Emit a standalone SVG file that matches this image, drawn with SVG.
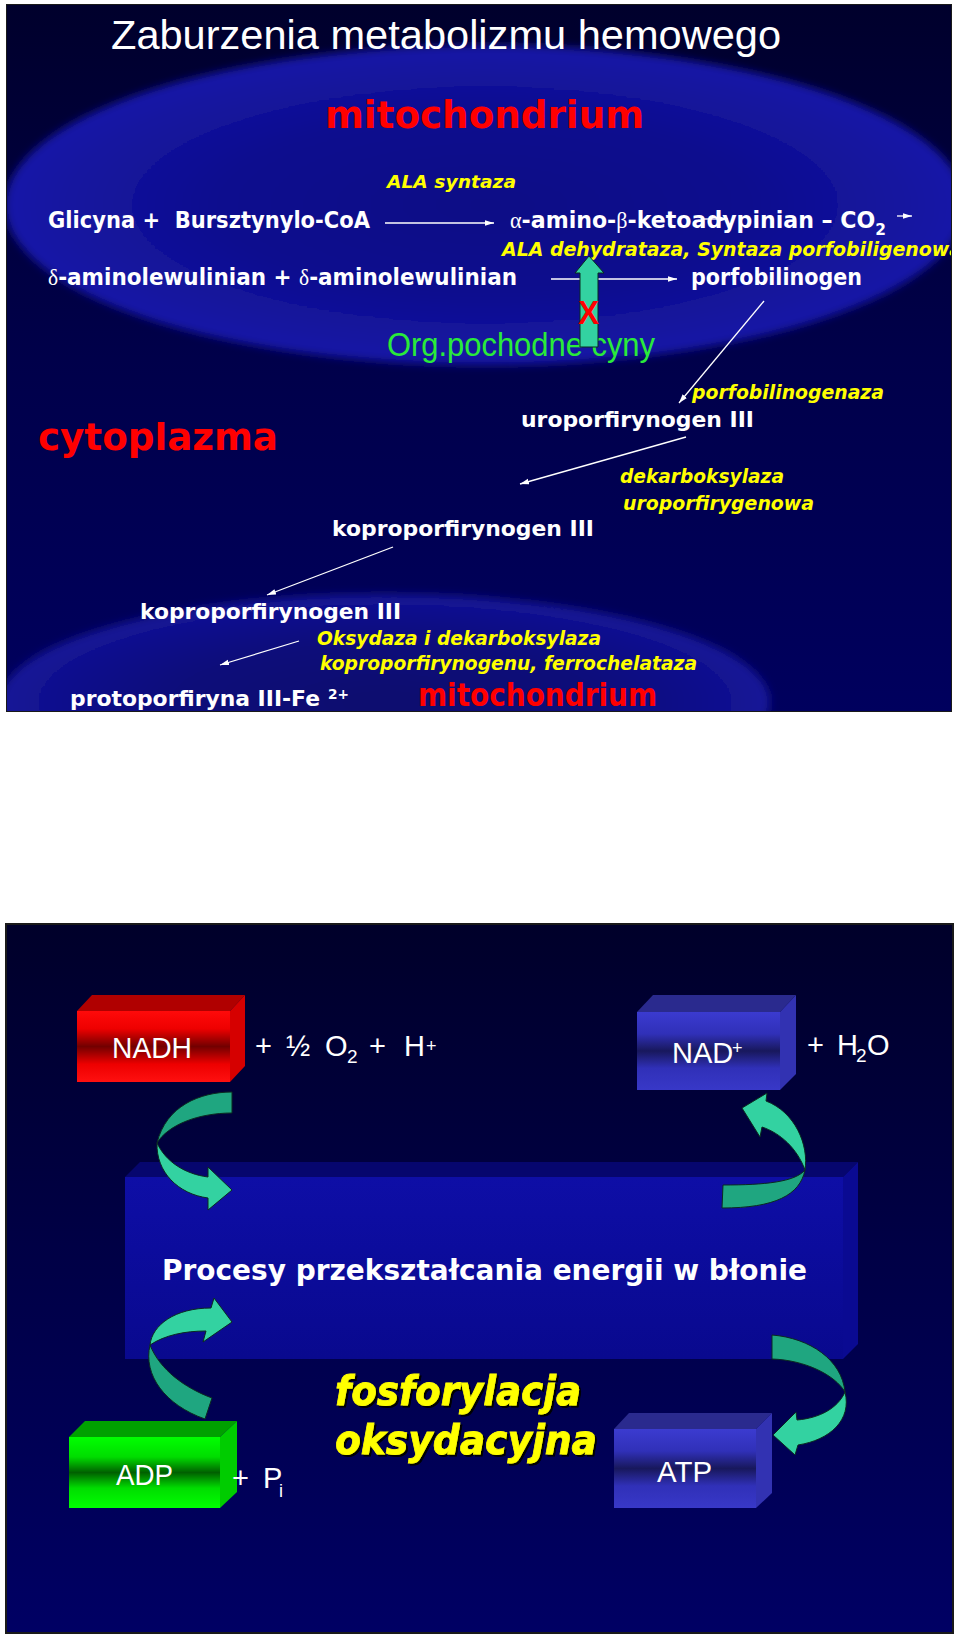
<svg xmlns="http://www.w3.org/2000/svg" width="960" height="1641" viewBox="0 0 960 1641">
<style>
text{font-family:"DejaVu Sans","Liberation Sans",Arial,sans-serif}
.ls{font-family:"Liberation Sans",Arial,sans-serif}
.wb{fill:#fff;font-weight:bold}
.wr{fill:#fff;font-family:"Liberation Sans",Arial,sans-serif}
.yi{fill:#ff0;font-weight:bold;font-style:italic}
.rb{fill:#f00;font-weight:bold}
.gk{font-family:"Liberation Serif","Times New Roman",serif;font-weight:normal}
.conn{stroke:#fff;stroke-width:1.3;fill:none;marker-end:url(#ah)}
.ga{stroke:#0b2a20;stroke-width:1;stroke-linejoin:round}
.dk{fill:#1fa680}
.lt{fill:#33d2a1}
</style>
<defs>
<linearGradient id="bgTop" x1="0" y1="0" x2="0" y2="1"><stop offset="0" stop-color="#00002c"/><stop offset="0.5" stop-color="#00004a"/><stop offset="1" stop-color="#00005e"/></linearGradient>
<linearGradient id="bgBot" x1="0" y1="0" x2="0" y2="1"><stop offset="0" stop-color="#00002a"/><stop offset="0.4" stop-color="#000042"/><stop offset="1" stop-color="#000064"/></linearGradient>
<radialGradient id="ell" cx="0.5" cy="0.5" r="0.5"><stop offset="0" stop-color="#0a0a86"/><stop offset="0.55" stop-color="#0d0d8e"/><stop offset="0.88" stop-color="#1515a0"/><stop offset="1" stop-color="#1818a8"/></radialGradient>
<radialGradient id="ell2" cx="0.5" cy="0.5" r="0.5"><stop offset="0" stop-color="#07076e"/><stop offset="0.55" stop-color="#09097a"/><stop offset="0.88" stop-color="#11118f"/><stop offset="1" stop-color="#141498"/></radialGradient>
<linearGradient id="redF" x1="0" y1="0" x2="0" y2="1"><stop offset="0" stop-color="#ff0a0a"/><stop offset="0.25" stop-color="#ee0000"/><stop offset="0.5" stop-color="#720000"/><stop offset="0.75" stop-color="#ee0000"/><stop offset="1" stop-color="#ff1010"/></linearGradient>
<linearGradient id="bluF" x1="0" y1="0" x2="0" y2="1"><stop offset="0" stop-color="#3b3bd0"/><stop offset="0.28" stop-color="#3030b8"/><stop offset="0.5" stop-color="#18185c"/><stop offset="0.72" stop-color="#3030b8"/><stop offset="1" stop-color="#3838c8"/></linearGradient>
<linearGradient id="grnF" x1="0" y1="0" x2="0" y2="1"><stop offset="0" stop-color="#00ff00"/><stop offset="0.28" stop-color="#00dd00"/><stop offset="0.5" stop-color="#006000"/><stop offset="0.72" stop-color="#00dd00"/><stop offset="1" stop-color="#00ff00"/></linearGradient>
<linearGradient id="bigF" x1="0" y1="0" x2="0" y2="1"><stop offset="0" stop-color="#0e0ea6"/><stop offset="1" stop-color="#09098e"/></linearGradient>
<marker id="ah" markerUnits="userSpaceOnUse" markerWidth="9" markerHeight="7" refX="9" refY="3.5" orient="auto"><path d="M0,0.7 L9,3.5 L0,6.3 Z" fill="#fff"/></marker>
<clipPath id="clipTop"><rect x="6" y="4" width="946" height="708"/></clipPath>
<filter id="soft" x="-5%" y="-10%" width="110%" height="120%"><feGaussianBlur stdDeviation="4"/></filter>
<filter id="sh" x="-5%" y="-20%" width="115%" height="150%"><feDropShadow dx="2" dy="2" stdDeviation="0.6" flood-color="#000"/></filter>
</defs>
<rect x="0" y="0" width="960" height="1641" fill="#fff"/>

<g id="slide1" clip-path="url(#clipTop)">
<rect x="6" y="4" width="946" height="708" fill="url(#bgTop)"/>
<ellipse cx="485" cy="205" rx="480" ry="160" fill="url(#ell)" filter="url(#soft)"/>
<ellipse cx="385" cy="702" rx="385" ry="108" fill="url(#ell2)" filter="url(#soft)"/>

<g id="title"><text class="wr" x="111" y="49" font-size="41" textLength="670" lengthAdjust="spacingAndGlyphs">Zaburzenia metabolizmu hemowego</text></g>
<g id="mitochondrium-top"><text class="rb" x="325" y="128" font-size="37" textLength="319" lengthAdjust="spacingAndGlyphs">mitochondrium</text></g>
<g id="ala-syntaza"><text class="yi" x="387" y="188" font-size="18" textLength="129" lengthAdjust="spacingAndGlyphs">ALA syntaza</text></g>
<g id="glicyna"><text class="wb" x="48" y="228" font-size="23" textLength="322" lengthAdjust="spacingAndGlyphs" xml:space="preserve">Glicyna +  Bursztynylo-CoA</text></g>
<g id="ketoadypinian"><text class="wb" x="510" y="228" font-size="23" textLength="376" lengthAdjust="spacingAndGlyphs"><tspan class="gk">α</tspan>-amino-<tspan class="gk">β</tspan>-ketoadypinian – CO<tspan dy="7" font-size="16">2</tspan></text></g>
<g id="ala-dehydrataza"><text class="yi" x="502" y="256" font-size="20" textLength="460" lengthAdjust="spacingAndGlyphs">ALA dehydrataza, Syntaza porfobiligenowa</text></g>
<g id="aminolewulinian"><text class="wb" x="48" y="285" font-size="23" textLength="469" lengthAdjust="spacingAndGlyphs"><tspan class="gk">δ</tspan>-aminolewulinian + <tspan class="gk">δ</tspan>-aminolewulinian</text></g>
<g id="porfobilinogen"><text class="wb" x="691" y="285" font-size="23" textLength="171" lengthAdjust="spacingAndGlyphs">porfobilinogen</text></g>
<g id="org-pochodne"><text class="ls" x="387" y="356" font-size="34" fill="#2aea3a" textLength="268" lengthAdjust="spacingAndGlyphs">Org.pochodne cyny</text></g>
<g id="porfobilinogenaza"><text class="yi" x="692" y="399" font-size="19" textLength="192" lengthAdjust="spacingAndGlyphs">porfobilinogenaza</text></g>
<g id="uroporfirynogen"><text class="wb" x="521" y="427" font-size="22" textLength="233" lengthAdjust="spacingAndGlyphs">uroporfirynogen III</text></g>
<g id="cytoplazma"><text class="rb" x="38" y="450" font-size="38" textLength="240" lengthAdjust="spacingAndGlyphs">cytoplazma</text></g>
<g id="dekarboksylaza"><text class="yi" x="620" y="483" font-size="19" textLength="164" lengthAdjust="spacingAndGlyphs">dekarboksylaza</text><text class="yi" x="623" y="510" font-size="19" textLength="191" lengthAdjust="spacingAndGlyphs">uroporfirygenowa</text></g>
<g id="koproporfirynogen-1"><text class="wb" x="332" y="536" font-size="22" textLength="262" lengthAdjust="spacingAndGlyphs">koproporfirynogen III</text></g>
<g id="koproporfirynogen-2"><text class="wb" x="140" y="619" font-size="22" textLength="261" lengthAdjust="spacingAndGlyphs">koproporfirynogen III</text></g>
<g id="oksydaza"><text class="yi" x="317" y="645" font-size="19" textLength="284" lengthAdjust="spacingAndGlyphs">Oksydaza i dekarboksylaza</text><text class="yi" x="320" y="670" font-size="19" textLength="377" lengthAdjust="spacingAndGlyphs">koproporfirynogenu, ferrochelataza</text></g>
<g id="protoporfiryna"><text class="wb" x="70" y="706" font-size="22" textLength="250" lengthAdjust="spacingAndGlyphs">protoporfiryna III-Fe</text><text class="wb" x="328" y="699" font-size="14" textLength="21" lengthAdjust="spacingAndGlyphs">2+</text></g>
<g id="mitochondrium-bottom"><text class="rb" x="418" y="706" font-size="32" textLength="239" lengthAdjust="spacingAndGlyphs">mitochondrium</text></g>

<g id="connectors-top">
<line class="conn" x1="385" y1="223" x2="494" y2="223"/>
<line class="conn" x1="701" y1="219" x2="728" y2="219"/>
<line class="conn" x1="897" y1="216" x2="912" y2="216"/>
<line class="conn" x1="551" y1="279" x2="677" y2="279"/>
<line class="conn" x1="764" y1="301" x2="679" y2="403"/>
<line class="conn" x1="686" y1="437" x2="520" y2="484"/>
<line class="conn" x1="393" y1="547" x2="267" y2="595"/>
<line class="conn" x1="299" y1="641" x2="220" y2="665"/>
<path class="ga lt" d="M589,256 L604,273 L598,273 L598,347 L580,347 L580,273 L575,273 Z"/>
<text class="ls" x="578" y="324" font-size="34" font-weight="bold" fill="#ff0000" textLength="21" lengthAdjust="spacingAndGlyphs">X</text>
</g>
<rect x="6" y="4" width="946" height="708" fill="none" stroke="#1a1a1a" stroke-width="2"/>
</g>

<g id="slide2">
<rect x="6" y="924" width="947" height="709" fill="url(#bgBot)" stroke="#1a1a1a" stroke-width="2"/>

<g id="membrane-box">
<polygon points="125,1177 140,1162 858,1162 843,1177" fill="#06066e"/>
<polygon points="843,1177 858,1162 858,1344 843,1359" fill="#0a0a92"/>
<rect x="125" y="1177" width="718" height="182" fill="url(#bigF)"/>
<text class="wb" x="162" y="1280" font-size="28" textLength="645" lengthAdjust="spacingAndGlyphs">Procesy przekształcania energii w błonie</text>
</g>

<g id="nadh">
<polygon points="77,1011 92,995 245,995 230,1011" fill="#b00000"/>
<polygon points="230,1011 245,995 245,1066 230,1082" fill="#d60000"/>
<rect x="77" y="1011" width="153" height="71" fill="url(#redF)"/>
<text class="wr" x="112" y="1058" font-size="29" textLength="80" lengthAdjust="spacingAndGlyphs">NADH</text>
</g>
<g id="eq-left"><text class="wr" font-size="29" y="1056"><tspan x="255">+</tspan><tspan x="286">½</tspan><tspan x="325">O</tspan><tspan x="347" y="1063" font-size="19">2</tspan><tspan x="369" y="1056">+</tspan><tspan x="404">H</tspan><tspan x="426" y="1052" font-size="18">+</tspan></text></g>

<g id="nad-plus">
<polygon points="637,1012 653,995 796,995 780,1012" fill="#2a2a8e"/>
<polygon points="780,1012 796,995 796,1074 780,1090" fill="#3232b2"/>
<rect x="637" y="1012" width="143" height="78" fill="url(#bluF)"/>
<text class="wr" x="672" y="1063" font-size="29">NAD<tspan x="732" y="1054" font-size="18">+</tspan></text>
</g>
<g id="eq-right"><text class="wr" font-size="29" y="1055"><tspan x="807">+</tspan><tspan x="837">H</tspan><tspan x="856" y="1062" font-size="19">2</tspan><tspan x="867" y="1055">O</tspan></text></g>

<g id="adp">
<polygon points="69,1437 85,1421 237,1421 220,1437" fill="#00a000"/>
<polygon points="220,1437 237,1421 237,1492 220,1508" fill="#00cc00"/>
<rect x="69" y="1437" width="151" height="71" fill="url(#grnF)"/>
<text class="wr" x="116" y="1485" font-size="29" textLength="57" lengthAdjust="spacingAndGlyphs">ADP</text>
</g>
<g id="pi"><text class="wr" font-size="29" y="1488"><tspan x="232">+</tspan><tspan x="263">P</tspan><tspan x="279" y="1497" font-size="18">i</tspan></text></g>

<g id="atp">
<polygon points="614,1429 629,1413 772,1413 756,1429" fill="#2a2a8e"/>
<polygon points="756,1429 772,1413 772,1493 756,1508" fill="#3232b2"/>
<rect x="614" y="1429" width="142" height="79" fill="url(#bluF)"/>
<text class="wr" x="657" y="1482" font-size="29" textLength="55" lengthAdjust="spacingAndGlyphs">ATP</text>
</g>

<g id="fosforylacja" filter="url(#sh)">
<text class="yi" x="335" y="1405" font-size="41" stroke="#ff0" stroke-width="0.8" textLength="246" lengthAdjust="spacingAndGlyphs">fosforylacja</text>
<text class="yi" x="335" y="1454" font-size="41" stroke="#ff0" stroke-width="0.8" textLength="262" lengthAdjust="spacingAndGlyphs">oksydacyjna</text>
</g>

<g id="connectors">
<path class="ga dk" d="M232,1092 C200,1092 166,1106 157,1143 C168,1125 198,1113 232,1113 Z"/>
<path class="ga lt" d="M157,1143 C156,1172 178,1194 208,1198 L208,1210 L232,1190 L208,1167 L208,1177 C185,1174 166,1162 157,1143 Z"/>
<path class="ga dk" d="M805,1170 C800,1195 775,1208 722,1208 L723,1185 C765,1185 795,1182 805,1170 Z"/>
<path class="ga lt" d="M805,1170 C809,1145 795,1112 766,1101 L767,1093 L742,1108 L760,1137 L762,1127 C780,1133 797,1148 805,1170 Z"/>
<path class="ga dk" d="M150,1345 C143,1375 165,1405 205,1419 L212,1398 C185,1388 160,1370 150,1345 Z"/>
<path class="ga lt" d="M150,1345 C152,1325 175,1308 211,1308 L214,1298 L232,1322 L203,1342 L206,1331 C185,1331 165,1335 150,1345 Z"/>
<path class="ga dk" d="M772,1335 C810,1338 842,1360 845,1392 C835,1375 805,1360 772,1359 Z"/>
<path class="ga lt" d="M845,1392 C852,1420 830,1440 798,1445 L795,1455 L773,1435 L796,1412 L797,1420 C820,1418 838,1408 845,1392 Z"/>
</g>
</g>
</svg>
